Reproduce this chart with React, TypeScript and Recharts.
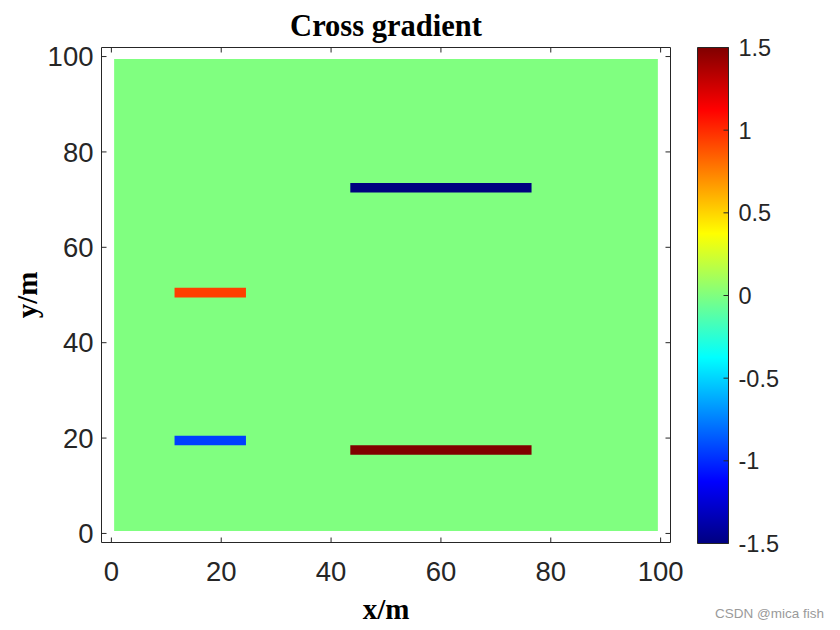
import React from 'react';
import { ComposedChart, XAxis, YAxis, ReferenceArea, Label, Scatter } from 'recharts';

// ---- axis ticks / ranges ----
const xTicks = [0, 20, 40, 60, 80, 100];
const yTicks = [0, 20, 40, 60, 80, 100];
const xDomain = [-1.8, 101.8];
const yDomain = [-1.9, 101.9];
const colorbarTicks = [-1.5, -1, -0.5, 0, 0.5, 1, 1.5];
const colorRange = [-1.5, 1.5];

// ---- background model region (value 0) ----
const backgroundX = [0.5, 99.5];
const backgroundY = [0.5, 99.5];
const backgroundValue = 0;

// ---- anomalies (cross-gradient bands) ----
const anomalyNames = ['upper-left', 'lower-left', 'upper-right', 'lower-right'];
const anomalyX1 = [11.5, 11.5, 43.5, 43.5];
const anomalyX2 = [24.5, 24.5, 76.5, 76.5];
const anomalyY1 = [49.5, 18.5, 71.5, 16.5];
const anomalyY2 = [51.5, 20.5, 73.5, 18.5];
const anomalyValues = [0.94, -0.94, -1.5, 1.5];

// corners of the model grid (gives the scales their data)
const gridCorners = [
  { x: backgroundX[0], y: backgroundY[0] },
  { x: backgroundX[1], y: backgroundY[1] },
];
const colorbarData = [
  { c: 0, v: colorRange[0] },
  { c: 1, v: colorRange[1] },
];

const clamp = (v: number) => Math.max(0, Math.min(1, v));
function jet(v: number): string {
  const t = (v - colorRange[0]) / (colorRange[1] - colorRange[0]);
  const r = clamp(Math.min(4 * t - 1.5, -4 * t + 4.5));
  const g = clamp(Math.min(4 * t - 0.5, -4 * t + 3.5));
  const b = clamp(Math.min(4 * t + 0.5, -4 * t + 2.5));
  const h = (c: number) => Math.round(c * 255).toString(16).padStart(2, '0');
  return `#${h(r)}${h(g)}${h(b)}`;
}

const gradStops = [0, 0.125, 0.375, 0.625, 0.875, 1];

const SANS = 'Liberation Sans, Arial, Helvetica, sans-serif';
const SERIF = 'Liberation Serif, Times New Roman, serif';
const AX = '#262626';

const tickStyle = { fontSize: 27.5, fill: AX, fontFamily: SANS };

const Nothing = () => <g />;

const TitleContent = (props: any) => {
  const vb = props.viewBox || { x: 102, width: 568 };
  return (
    <text x={vb.x + vb.width / 2} y={36} textAnchor="middle" fontFamily={SERIF} fontWeight="bold" fontSize={30.5} fill="#000">
      Cross gradient
    </text>
  );
};

const XLabelContent = (props: any) => {
  const vb = props.viewBox || { x: 102, width: 568 };
  return (
    <text x={vb.x + vb.width / 2} y={619} textAnchor="middle" fontFamily={SERIF} fontWeight="bold" fontSize={29} fill="#000">
      x/m
    </text>
  );
};

const YLabelContent = (props: any) => {
  const vb = props.viewBox || { y: 47, height: 496 };
  const cy = vb.y + vb.height / 2;
  const cx = 37;
  return (
    <text x={cx} y={cy} transform={`rotate(-90, ${cx}, ${cy})`} textAnchor="middle" fontFamily={SERIF} fontWeight="bold" fontSize={29} fill="#000">
      y/m
    </text>
  );
};

export default function App() {
  return (
    <div style={{ position: 'absolute', left: 0, top: 0, width: 840, height: 630, background: '#fff' }}>
      <div style={{ position: 'absolute', left: 0, top: 0 }}>
        <ComposedChart width={840} height={630} data={gridCorners} margin={{ top: 46.5, right: 168.5, bottom: 7.5, left: 11.5 }}>
          <XAxis
            xAxisId="bottom"
            dataKey="x"
            type="number"
            domain={xDomain}
            ticks={xTicks}
            allowDataOverflow
            height={80}
            tick={tickStyle}
            tickSize={-5}
            tickMargin={24}
            axisLine={{ stroke: AX }}
            tickLine={{ stroke: AX }}
          >
            <Label content={XLabelContent} />
          </XAxis>
          <XAxis
            xAxisId="top"
            dataKey="x"
            orientation="top"
            type="number"
            domain={xDomain}
            ticks={xTicks}
            allowDataOverflow
            height={1}
            tick={Nothing}
            tickSize={-5}
            axisLine={{ stroke: AX }}
            tickLine={{ stroke: AX }}
          >
            <Label content={TitleContent} />
          </XAxis>
          <YAxis
            yAxisId="left"
            dataKey="y"
            type="number"
            domain={yDomain}
            ticks={yTicks}
            allowDataOverflow
            width={90}
            tick={tickStyle}
            tickSize={-5}
            tickMargin={13}
            axisLine={{ stroke: AX }}
            tickLine={{ stroke: AX }}
          >
            <Label content={YLabelContent} />
          </YAxis>
          <YAxis
            yAxisId="right"
            dataKey="y"
            orientation="right"
            type="number"
            domain={yDomain}
            ticks={yTicks}
            allowDataOverflow
            width={1}
            tick={Nothing}
            tickSize={-5}
            axisLine={{ stroke: AX }}
            tickLine={{ stroke: AX }}
          />
          <Scatter xAxisId="bottom" yAxisId="left" dataKey="y" shape={Nothing} isAnimationActive={false} />
          <Scatter xAxisId="top" yAxisId="right" dataKey="y" shape={Nothing} isAnimationActive={false} />
          <ReferenceArea
            xAxisId="bottom"
            yAxisId="left"
            x1={backgroundX[0]}
            x2={backgroundX[1]}
            y1={backgroundY[0]}
            y2={backgroundY[1]}
            fill={jet(backgroundValue)}
            fillOpacity={1}
            stroke="none"
          />
          {anomalyNames.map((name, i) => (
            <ReferenceArea
              key={name}
              xAxisId="bottom"
              yAxisId="left"
              x1={anomalyX1[i]}
              x2={anomalyX2[i]}
              y1={anomalyY1[i]}
              y2={anomalyY2[i]}
              fill={jet(anomalyValues[i])}
              fillOpacity={1}
              stroke="none"
            />
          ))}
        </ComposedChart>
      </div>
      <div style={{ position: 'absolute', left: 690, top: 0 }}>
        <ComposedChart width={150} height={630} data={colorbarData} margin={{ top: 47.5, right: 51.5, bottom: 86.5, left: 7.5 }}>
          <defs>
            <linearGradient id="jetGrad" x1="0" y1="1" x2="0" y2="0">
              {gradStops.map((t) => (
                <stop key={t} offset={t} stopColor={jet(colorRange[0] + t * (colorRange[1] - colorRange[0]))} />
              ))}
            </linearGradient>
          </defs>
          <XAxis dataKey="c" type="number" domain={[0, 1]} hide allowDataOverflow />
          <YAxis
            dataKey="v"
            type="number"
            orientation="right"
            domain={colorRange}
            ticks={colorbarTicks}
            allowDataOverflow
            width={60}
            tick={{ fontSize: 23.5, fill: AX, fontFamily: SANS }}
            tickSize={-5}
            tickMargin={15}
            axisLine={false}
            tickLine={{ stroke: AX }}
          />
          <Scatter dataKey="v" shape={Nothing} isAnimationActive={false} />
          <ReferenceArea x1={0} x2={1} y1={colorRange[0]} y2={colorRange[1]} fill="url(#jetGrad)" fillOpacity={1} stroke={AX} strokeWidth={1} />
        </ComposedChart>
      </div>
      <div style={{ position: 'absolute', left: 600, top: 606, width: 224, textAlign: 'right', fontFamily: SANS, fontSize: 13.5, color: '#9a9a9a' }}>
        CSDN @mica fish
      </div>
    </div>
  );
}
